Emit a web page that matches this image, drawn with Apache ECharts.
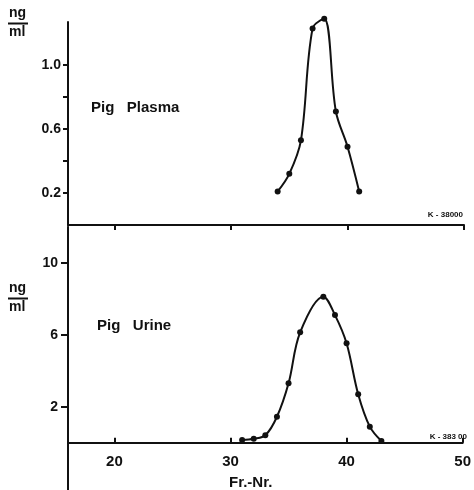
<!DOCTYPE html>
<html>
<head>
<meta charset="utf-8">
<script src="https://cdn.jsdelivr.net/npm/echarts@6/dist/echarts.min.js"></script>
<style>html,body{margin:0;padding:0;background:#fff}#c{width:474px;height:490px}</style>
</head>
<body>
<div id="c"></div>
<script>
// Top panel: Pig Plasma
const plasmaX = [34, 35, 36, 37, 38, 39, 40, 41];
const plasmaY = [0.21, 0.32, 0.53, 1.23, 1.29, 0.71, 0.49, 0.21];
// Bottom panel: Pig Urine
const urineX = [31, 32, 33, 34, 35, 36, 38, 39, 40, 41, 42, 43];
const urineY = [0.15, 0.22, 0.41, 1.44, 3.3, 6.13, 8.11, 7.09, 5.52, 2.69, 0.89, 0.09];
// Tick labels
const xTicks = [20, 30, 40, 50];
const plasmaTicks = [0.2, 0.4, 0.6, 0.8, 1.0];
const plasmaLabels = [0.2, 0.6, 1.0];
const urineTicks = [2, 6, 10];
const urineLabels = [2, 6, 10];

const FONT = 'Liberation Sans';
const INK = '#111';

const chart = echarts.init(document.getElementById('c'), null, {renderer: 'canvas'});
const axisLine = {show: true, lineStyle: {color: INK, width: 2}};
const labelStyle = {color: INK, fontFamily: FONT, fontSize: 14, fontWeight: 'bold'};

chart.setOption({
  animation: false,
  backgroundColor: '#fff',
  grid: [
    {left: 68, top: 22, width: 396, height: 203},
    {left: 68, top: 226.7, width: 396, height: 216}
  ],
  xAxis: [
    {gridIndex: 0, type: 'value', min: 16, max: 50, interval: 2,
     axisLine: axisLine, splitLine: {show: false},
     axisTick: {show: true, inside: false, length: 5, lineStyle: {color: INK, width: 2}, customValues: xTicks},
     axisLabel: {show: false}},
    {gridIndex: 1, type: 'value', min: 16, max: 50, interval: 2,
     axisLine: axisLine, splitLine: {show: false},
     axisTick: {show: true, inside: true, length: 5, lineStyle: {color: INK, width: 2}, customValues: xTicks},
     axisLabel: Object.assign({margin: 12, fontSize: 15, customValues: xTicks}, {color: INK, fontFamily: FONT, fontWeight: 'bold'})}
  ],
  yAxis: [
    {gridIndex: 0, type: 'value', min: 0, max: 1.27, interval: 0.2,
     axisLine: axisLine, splitLine: {show: false},
     axisTick: {show: true, inside: false, length: 5, lineStyle: {color: INK, width: 2}, customValues: plasmaTicks},
     axisLabel: Object.assign({margin: 7, customValues: plasmaLabels, formatter: v => v.toFixed(1)}, labelStyle)},
    {gridIndex: 1, type: 'value', min: 0, max: 12, interval: 2,
     axisLine: axisLine, splitLine: {show: false},
     axisTick: {show: true, inside: false, length: 7, lineStyle: {color: INK, width: 2}, customValues: urineTicks},
     axisLabel: Object.assign({margin: 10, customValues: urineLabels}, labelStyle)}
  ],
  series: [
    {type: 'line', xAxisIndex: 0, yAxisIndex: 0, smooth: 0.35, clip: false,
     data: plasmaX.map((x, i) => [x, plasmaY[i]]),
     symbol: 'circle', symbolSize: 6,
     lineStyle: {color: INK, width: 2}, itemStyle: {color: INK}},
    {type: 'line', xAxisIndex: 1, yAxisIndex: 1, smooth: 0.35, clip: false,
     data: urineX.map((x, i) => [x, urineY[i]]),
     symbol: 'circle', symbolSize: 6,
     lineStyle: {color: INK, width: 2}, itemStyle: {color: INK}}
  ],
  graphic: [
    // y-axis continuation below lower baseline
    {type: 'line', shape: {x1: 68, y1: 442, x2: 68, y2: 490}, style: {stroke: INK, lineWidth: 2}},
    // ng/ml top
    {type: 'text', left: 9, top: 6, style: {text: 'ng', font: 'bold 14px ' + FONT, fill: INK}},
    {type: 'line', shape: {x1: 8, y1: 23.5, x2: 28, y2: 23.5}, style: {stroke: INK, lineWidth: 2}},
    {type: 'text', left: 9, top: 25, style: {text: 'ml', font: 'bold 14px ' + FONT, fill: INK}},
    // ng/ml bottom
    {type: 'text', left: 9, top: 281, style: {text: 'ng', font: 'bold 14px ' + FONT, fill: INK}},
    {type: 'line', shape: {x1: 8, y1: 298.5, x2: 28, y2: 298.5}, style: {stroke: INK, lineWidth: 2}},
    {type: 'text', left: 9, top: 300, style: {text: 'ml', font: 'bold 14px ' + FONT, fill: INK}},
    // panel titles
    {type: 'text', left: 91, top: 100, style: {text: 'Pig   Plasma', font: 'bold 15px ' + FONT, fill: INK}},
    {type: 'text', left: 97, top: 318, style: {text: 'Pig   Urine', font: 'bold 15px ' + FONT, fill: INK}},
    // sample codes
    {type: 'text', right: 11, top: 211, style: {text: 'K - 38000', font: 'bold 8px ' + FONT, fill: INK}},
    {type: 'text', right: 7, top: 433, style: {text: 'K - 383 00', font: 'bold 8px ' + FONT, fill: INK}},
    // x-axis name
    {type: 'text', left: 229, top: 475, style: {text: 'Fr.-Nr.', font: 'bold 15px ' + FONT, fill: INK}}
  ]
});
</script>
</body>
</html>
